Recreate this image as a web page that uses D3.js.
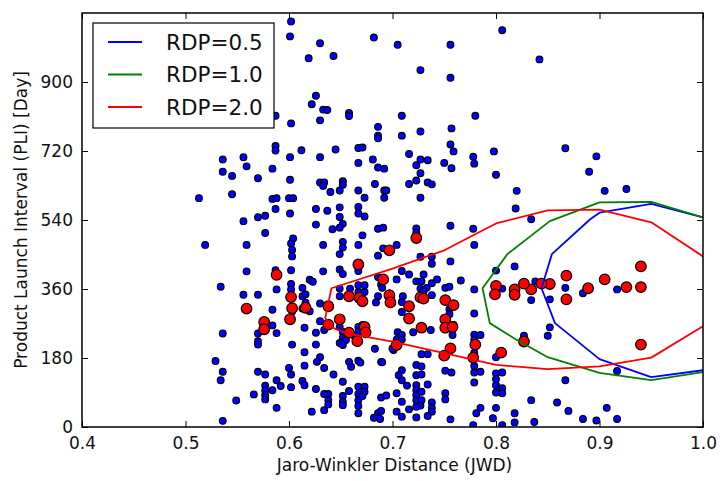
<!DOCTYPE html>
<html>
<head>
<meta charset="utf-8">
<script src="https://cdn.jsdelivr.net/npm/d3@7"></script>
<style>
  body { margin: 0; background: #fff; }
  text { font-family: "DejaVu Sans", sans-serif; fill: #111; }
</style>
</head>
<body>
<svg id="chart" width="720" height="481"></svg>
<script>
// Axis ticks
const xTicks = [0.4, 0.5, 0.6, 0.7, 0.8, 0.9, 1.0];
const yTicks = [0, 180, 360, 540, 720, 900];

// All product pairs: [JWD, PLI days]
const allPairs = [
  [0.602,1058],[0.601,1019],[0.587,812],[0.602,792],[0.587,733],[0.587,721],[0.601,704],[0.536,698],
  [0.556,704],[0.559,680],[0.536,666],[0.545,655],[0.584,674],[0.570,649],[0.601,645],[0.545,607],
  [0.513,597],[0.584,595],[0.588,597],[0.600,597],[0.604,597],[0.587,569],[0.601,557],[0.556,537],
  [0.570,547],[0.577,551],[0.577,506],[0.604,492],
  [0.519,475],[0.559,475],[0.602,479],[0.603,462],[0.603,445],[0.559,406],[0.587,409],[0.602,409],
  [0.534,366],[0.556,345],[0.570,345],[0.588,359],[0.602,373],[0.602,359],[0.584,306],[0.603,301],
  [0.536,244],[0.570,244],[0.570,224],[0.570,215],[0.588,245],[0.603,215],[0.584,265],[0.529,172],
  [0.536,144],[0.534,122],[0.570,144],[0.577,137],[0.600,154],[0.602,137],[0.577,108],[0.577,95],
  [0.577,83],[0.577,72],[0.584,96],[0.588,122],[0.592,107],[0.566,85],[0.602,104],[0.549,69],
  [0.588,50],[0.536,16],
  [0.612,722],[0.619,962],[0.630,1001],[0.643,968],[0.626,864],[0.622,842],[0.633,828],[0.637,827],
  [0.658,819],[0.658,811],[0.630,800],[0.645,724],[0.667,728],[0.671,729],[0.630,704],[0.667,689],
  [0.682,1016],[0.705,997],[0.709,812],[0.686,783],[0.686,760],[0.686,753],[0.709,760],[0.681,698],
  [0.686,677],[0.692,674],[0.716,712],[0.630,638],[0.634,638],[0.633,629],[0.652,641],[0.652,632],
  [0.649,617],[0.640,613],[0.667,617],[0.673,598],[0.683,634],[0.692,617],[0.694,617],[0.692,598],
  [0.716,634],[0.626,569],[0.637,564],[0.649,573],[0.649,548],[0.667,574],[0.667,557],[0.673,549],
  [0.626,528],[0.652,530],[0.642,516],[0.649,520],[0.671,500],[0.686,517],[0.691,520],
  [0.633,475],[0.652,483],[0.652,468],[0.649,451],[0.667,475],[0.691,466],[0.686,447],[0.704,475],
  [0.633,406],[0.649,411],[0.652,399],[0.667,407],[0.686,391],[0.704,385],[0.709,407],[0.716,398],
  [0.620,384],[0.623,379],[0.613,363],[0.667,370],[0.673,370],[0.689,372],[0.690,363],[0.686,341],
  [0.613,341],[0.616,346],[0.616,324],[0.667,352],[0.673,352],[0.649,341],[0.649,361],[0.659,361],
  [0.630,322],[0.620,302],[0.613,309],[0.684,325],[0.710,341],[0.709,326],[0.709,300],[0.634,253],
  [0.615,259],[0.626,246],[0.649,261],[0.652,248],[0.652,233],[0.667,261],[0.671,266],[0.667,248],
  [0.662,240],[0.649,219],[0.655,227],[0.652,214],[0.626,215],[0.615,195],[0.630,182],[0.627,170],
  [0.634,154],[0.643,137],[0.658,170],[0.660,157],[0.667,173],[0.669,168],[0.689,170],[0.705,247],
  [0.709,240],[0.701,201],[0.720,247],[0.709,148],[0.706,135],[0.709,122],[0.714,108],[0.723,162],
  [0.728,158],[0.723,135],[0.728,137],[0.615,160],[0.613,120],[0.615,109],[0.626,99],[0.638,86],
  [0.638,70],[0.638,59],[0.634,86],[0.652,118],[0.658,94],[0.652,81],[0.652,66],[0.652,57],
  [0.667,105],[0.667,86],[0.667,70],[0.667,55],[0.667,36],[0.673,105],[0.673,92],[0.671,81],
  [0.689,77],[0.694,82],[0.686,36],[0.689,42],[0.688,21],[0.682,24],[0.704,88],[0.709,66],
  [0.704,40],[0.709,27],[0.716,46],[0.622,40],[0.634,44],[0.700,205],[0.683,204],[0.690,169],
  [0.704,228],[0.709,228],[0.630,276],
  [0.806,1035],[0.756,997],[0.727,931],[0.756,911],[0.780,812],[0.727,771],[0.757,779],[0.756,737],
  [0.759,719],[0.727,698],[0.734,696],[0.723,683],[0.750,689],[0.757,675],[0.778,705],[0.779,687],
  [0.798,719],[0.800,658],[0.727,662],[0.723,643],[0.734,638],[0.738,633],[0.727,598],[0.820,616],
  [0.819,570],[0.723,518],[0.723,507],[0.756,525],[0.778,517],[0.779,475],[0.727,444],[0.738,444],
  [0.756,432],[0.738,426],[0.800,408],[0.818,419],[0.730,398],[0.766,382],[0.751,363],[0.755,366],
  [0.743,385],[0.806,361],[0.779,359],[0.723,380],[0.728,380],[0.738,375],[0.727,361],[0.733,363],
  [0.730,354],[0.738,344],[0.779,296],[0.755,307],[0.755,294],[0.753,274],[0.759,266],[0.737,253],
  [0.779,241],[0.779,228],[0.785,240],[0.728,190],[0.734,190],[0.751,147],[0.757,142],[0.779,159],
  [0.779,142],[0.785,144],[0.800,140],[0.806,142],[0.779,116],[0.800,125],[0.800,109],[0.806,101],
  [0.800,90],[0.806,88],[0.800,182],[0.723,109],[0.723,96],[0.723,83],[0.723,70],[0.728,92],
  [0.728,70],[0.727,56],[0.734,111],[0.738,64],[0.738,50],[0.738,40],[0.751,88],[0.751,72],
  [0.723,53],[0.723,25],[0.734,29],[0.756,20],[0.785,50],[0.781,36],[0.778,5],[0.800,50],
  [0.797,23],[0.806,5],[0.818,36],[0.818,12],[0.758,240],[0.779,193],[0.827,238],
  [0.842,959],[0.867,727],[0.897,706],[0.890,666],[0.905,616],[0.926,621],[0.834,542],[0.838,380],
  [0.834,331],[0.852,333],[0.884,349],[0.867,363],[0.917,359],[0.852,260],[0.850,238],[0.917,146],
  [0.867,122],[0.834,70],[0.859,64],[0.870,42],[0.907,50],[0.837,13],[0.884,21],[0.897,17],
  [0.917,21]
];

// Pairs flagged by RDP: [JWD, PLI days]
const rdpPairs = [
  [0.559,309],[0.576,274],[0.576,255],[0.588,397],[0.602,339],[0.603,310],[0.601,281],[0.616,311],
  [0.638,315],[0.638,267],[0.649,281],[0.658,341],[0.667,424],[0.658,246],[0.666,224],[0.723,493],
  [0.697,461],[0.691,385],[0.697,344],[0.668,337],[0.671,328],[0.698,325],[0.716,315],[0.716,283],
  [0.673,261],[0.674,247],[0.704,214],[0.868,395],[0.940,419],[0.905,385],[0.926,365],[0.940,365],
  [0.889,362],[0.868,333],[0.852,373],[0.844,374],[0.834,359],[0.827,374],[0.818,359],[0.818,345],
  [0.800,368],[0.799,346],[0.751,331],[0.759,318],[0.727,338],[0.730,335],[0.751,281],[0.751,259],
  [0.758,261],[0.728,259],[0.780,215],[0.778,181],[0.756,205],[0.750,186],[0.827,223],[0.805,194],
  [0.940,215]
];

// Density contours, one per RDP level: [JWD, PLI days]
const contourRdp05 = [
  [1.0,547],[0.95,582],[0.90,559],[0.891,542],[0.854,451],[0.844,362],[0.857,271],[0.90,177],
  [0.95,130],[1.0,148]
];
const contourRdp10 = [
  [1.0,547],[0.95,587],[0.90,586],[0.852,537],[0.811,451],[0.787,362],[0.794,271],[0.819,229],
  [0.85,182],[0.90,141],[0.95,122],[1.0,143]
];
const contourRdp20 = [
  [1.0,445],[0.95,534],[0.90,567],[0.85,565],[0.80,531],[0.75,461],[0.70,413],[0.641,362],
  [0.635,284],[0.643,258],[0.656,244],[0.70,223],[0.75,193],[0.80,162],[0.85,151],[0.90,158],
  [0.95,181],[1.0,263]
];

const legendLabels = ["RDP=0.5", "RDP=1.0", "RDP=2.0"];
const legendColors = ["#0000ff", "#008000", "#ff0000"];

const plot = { left: 82, right: 703, top: 13, bottom: 427 };
const svg = d3.select("#chart");

const x = d3.scaleLinear().domain([0.4, 1.0]).range([plot.left, plot.right]);
const y = d3.scaleLinear().domain([0, 1080]).range([plot.bottom, plot.top]);

svg.append("defs").append("clipPath").attr("id", "plotClip")
  .append("rect")
  .attr("x", plot.left).attr("y", plot.top)
  .attr("width", plot.right - plot.left).attr("height", plot.bottom - plot.top);

const body = svg.append("g").attr("clip-path", "url(#plotClip)");

// scatter of all pairs
body.append("g").selectAll("circle").data(allPairs).join("circle")
  .attr("cx", d => x(d[0])).attr("cy", d => y(d[1]))
  .attr("r", 3.4)
  .attr("fill", "#0000ff").attr("stroke", "#000").attr("stroke-width", 1.1);

// RDP-flagged pairs
body.append("g").selectAll("circle").data(rdpPairs).join("circle")
  .attr("cx", d => x(d[0])).attr("cy", d => y(d[1]))
  .attr("r", 5.3)
  .attr("fill", "#ff0000").attr("stroke", "#000").attr("stroke-width", 1.2);

// contour lines
const line = d3.line().x(d => x(d[0])).y(d => y(d[1]));
[contourRdp05, contourRdp10, contourRdp20].forEach((c, i) => {
  body.append("path").datum(c)
    .attr("d", line)
    .attr("fill", "none")
    .attr("stroke", legendColors[i])
    .attr("stroke-width", 1.8)
    .attr("stroke-linejoin", "round");
});

// axes with inward ticks on all four sides
const tickLen = 6;
const gx = svg.append("g").attr("transform", `translate(0,${plot.bottom})`)
  .call(d3.axisBottom(x).tickValues(xTicks).tickFormat(d3.format(".1f"))
    .tickSize(-tickLen).tickPadding(10));
const gy = svg.append("g").attr("transform", `translate(${plot.left},0)`)
  .call(d3.axisLeft(y).tickValues(yTicks).tickSize(-tickLen).tickPadding(9));
const gt = svg.append("g").attr("transform", `translate(0,${plot.top})`)
  .call(d3.axisTop(x).tickValues(xTicks).tickFormat("").tickSize(-tickLen));
const gr = svg.append("g").attr("transform", `translate(${plot.right},0)`)
  .call(d3.axisRight(y).tickValues(yTicks).tickFormat("").tickSize(-tickLen));

[gx, gy, gt, gr].forEach(g => {
  g.select(".domain").remove();
  g.selectAll(".tick line").attr("stroke", "#000").attr("stroke-width", 1);
  g.selectAll(".tick text").attr("font-size", 17).attr("fill", "#111")
    .style("font-family", "'DejaVu Sans', sans-serif");
});

// frame
svg.append("rect")
  .attr("x", plot.left).attr("y", plot.top)
  .attr("width", plot.right - plot.left).attr("height", plot.bottom - plot.top)
  .attr("fill", "none").attr("stroke", "#000").attr("stroke-width", 1.5);

// axis titles
svg.append("text")
  .attr("x", (plot.left + plot.right) / 2 + 2).attr("y", 471)
  .attr("text-anchor", "middle").attr("font-size", 17)
  .text("Jaro-Winkler Distance (JWD)");
svg.append("text")
  .attr("transform", `translate(27,${(plot.top + plot.bottom) / 2}) rotate(-90)`)
  .attr("text-anchor", "middle").attr("font-size", 17)
  .text("Product Launch Interval (PLI) [Day]");

// legend
const lg = svg.append("g");
lg.append("rect")
  .attr("x", 93).attr("y", 23).attr("width", 181).attr("height", 105)
  .attr("fill", "#fff").attr("stroke", "#000").attr("stroke-width", 1.2);
legendLabels.forEach((lab, i) => {
  const cy = 42 + i * 32.5;
  lg.append("line")
    .attr("x1", 108).attr("x2", 142).attr("y1", cy).attr("y2", cy)
    .attr("stroke", legendColors[i]).attr("stroke-width", 1.8);
  lg.append("text")
    .attr("x", 166).attr("y", cy).attr("dy", "0.36em")
    .attr("font-size", 21.5)
    .text(lab);
});
</script>
</body>
</html>
